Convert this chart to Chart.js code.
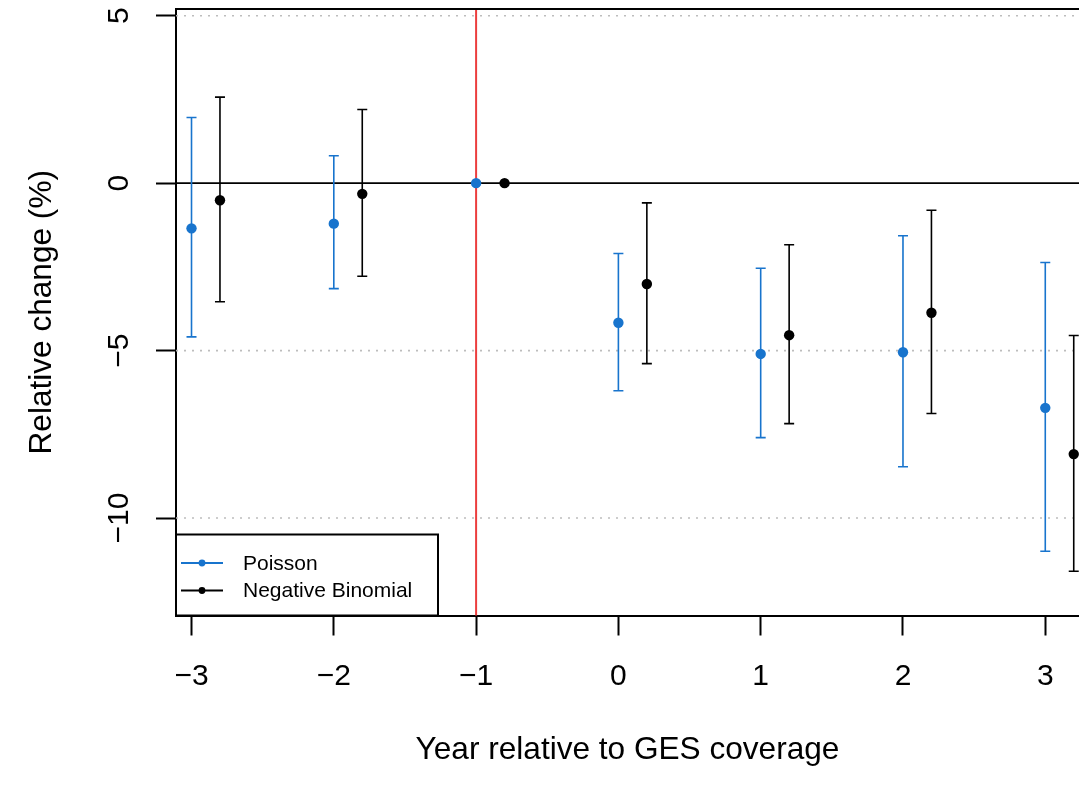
<!DOCTYPE html>
<html lang="en">
<head>
<meta charset="UTF-8">
<title>Relative change by year relative to GES coverage</title>
<script src="https://cdn.jsdelivr.net/npm/chart.js"></script>
<style>
  html, body { margin: 0; padding: 0; background: #fff; }
  #wrap { width: 1079px; height: 801px; }
</style>
</head>
<body>
<div id="wrap"><canvas id="chart" width="1079" height="801"></canvas></div>
<script>
// event-study estimates (percent)
const years = [-3, -2, -1, 0, 1, 2, 3];
const poissonEst  = [-1.35, -1.21, 0, -4.17, -5.10, -5.05, -6.71];
const poissonLow  = [-4.59, -3.15, null, -6.20, -7.60, -8.47, -10.99];
const poissonHigh = [1.96, 0.82, null, -2.10, -2.54, -1.57, -2.37];
const nbEst  = [-0.51, -0.32, 0, -3.01, -4.54, -3.87, -8.09];
const nbLow  = [-3.54, -2.78, null, -5.39, -7.18, -6.88, -11.59];
const nbHigh = [2.57, 2.20, null, -0.59, -1.84, -0.81, -4.55];
const xTicks = [-3, -2, -1, 0, 1, 2, 3];
const yTicks = [-10, -5, 0, 5];
const refYear = -1;     // red reference line
const nbShift = 0.2;    // negative binomial drawn a bit to the right

const FONT = "'Liberation Sans', Arial, Helvetica, sans-serif";
const blue = '#1874CD';
const black = '#000000';

function fmt(v) {
    return v < 0 ? '\u2212' + Math.abs(v) : String(v);
}

function points(est, lo, hi, shift) {
    return years.map((yr, i) => ({ x: yr + shift, y: est[i], lo: lo[i], hi: hi[i] }));
}

// dotted grid, solid zero line, red reference line
const backdrop = {
    id: 'backdrop',
    beforeDatasetsDraw(chart) {
        const { ctx, chartArea: a, scales: { x, y } } = chart;
        ctx.save();
        yTicks.forEach(v => {
            const py = y.getPixelForValue(v);
            ctx.beginPath();
            if (v === 0) {
                ctx.setLineDash([]);
                ctx.strokeStyle = black;
                ctx.lineWidth = 1.8;
            } else {
                ctx.setLineDash([2, 6]);
                ctx.strokeStyle = '#bdbdbd';
                ctx.lineWidth = 1.6;
            }
            ctx.moveTo(a.left, py);
            ctx.lineTo(a.right, py);
            ctx.stroke();
        });
        ctx.setLineDash([]);
        const rx = x.getPixelForValue(refYear);
        ctx.strokeStyle = 'rgb(236,62,62)';
        ctx.lineWidth = 2;
        ctx.beginPath();
        ctx.moveTo(rx, a.top);
        ctx.lineTo(rx, a.bottom);
        ctx.stroke();
        ctx.restore();
    }
};

const errorBars = {
    id: 'errorBars',
    beforeDatasetsDraw(chart) {
        const { ctx, scales: { x, y } } = chart;
        chart.data.datasets.forEach(ds => {
            ctx.save();
            ctx.strokeStyle = ds.borderColor;
            ctx.lineWidth = 1.6;
            ds.data.forEach(p => {
                if (p.lo == null || p.hi == null) return;
                const px = x.getPixelForValue(p.x);
                const y1 = y.getPixelForValue(p.lo);
                const y2 = y.getPixelForValue(p.hi);
                ctx.beginPath();
                ctx.moveTo(px, y1); ctx.lineTo(px, y2);
                ctx.moveTo(px - 5, y1); ctx.lineTo(px + 5, y1);
                ctx.moveTo(px - 5, y2); ctx.lineTo(px + 5, y2);
                ctx.stroke();
            });
            ctx.restore();
        });
    }
};

// vertical y tick labels (R style), box top and the legend
const overlay = {
    id: 'overlay',
    afterDraw(chart) {
        const { ctx, chartArea: a, scales: { y } } = chart;
        ctx.save();
        ctx.strokeStyle = black;
        ctx.lineWidth = 2;
        ctx.beginPath();
        ctx.moveTo(a.left - 1, a.top);
        ctx.lineTo(a.right, a.top);
        ctx.stroke();

        ctx.fillStyle = black;
        ctx.font = '30px ' + FONT;
        ctx.textAlign = 'center';
        ctx.textBaseline = 'alphabetic';
        y.ticks.forEach(t => {
            ctx.save();
            ctx.translate(y.right - 48, y.getPixelForValue(t.value));
            ctx.rotate(-Math.PI / 2);
            ctx.fillText(fmt(t.value), 0, 0);
            ctx.restore();
        });

        // legend box in the lower left corner
        const bx = a.left, bw = 262, bh = 81, by = a.bottom - bh;
        ctx.fillStyle = '#ffffff';
        ctx.fillRect(bx, by, bw, bh);
        ctx.strokeRect(bx, by, bw, bh);
        ctx.font = '21px ' + FONT;
        ctx.textAlign = 'left';
        ctx.textBaseline = 'middle';
        chart.data.datasets.forEach((ds, i) => {
            const ly = by + 28.5 + i * 27.5;
            ctx.strokeStyle = ds.borderColor;
            ctx.lineWidth = 2;
            ctx.beginPath();
            ctx.moveTo(bx + 5, ly);
            ctx.lineTo(bx + 47, ly);
            ctx.stroke();
            ctx.fillStyle = ds.backgroundColor;
            ctx.beginPath();
            ctx.arc(bx + 26, ly, 3.4, 0, Math.PI * 2);
            ctx.fill();
            ctx.fillStyle = black;
            ctx.fillText(ds.label, bx + 67, ly + 1);
        });
        ctx.restore();
    }
};

const ctx = document.getElementById('chart').getContext('2d');
const chart = new Chart(ctx, {
    type: 'scatter',
    data: {
        datasets: [
            {
                label: 'Poisson',
                data: points(poissonEst, poissonLow, poissonHigh, 0),
                backgroundColor: blue, borderColor: blue,
                pointRadius: 5.2, pointBorderWidth: 0, pointHoverRadius: 5.2
            },
            {
                label: 'Negative Binomial',
                data: points(nbEst, nbLow, nbHigh, nbShift),
                backgroundColor: black, borderColor: black,
                pointRadius: 5.2, pointBorderWidth: 0, pointHoverRadius: 5.2
            }
        ]
    },
    options: {
        responsive: false,
        animation: false,
        devicePixelRatio: 1,
        layout: { autoPadding: false, padding: { top: 9, left: 0, right: 0, bottom: 0 } },
        plugins: { legend: { display: false }, tooltip: { enabled: false } },
        scales: {
            x: {
                type: 'linear',
                min: -3.109,
                max: 3.237,
                afterBuildTicks: s => { s.ticks = xTicks.map(v => ({ value: v })); },
                afterFit: s => { s.height = 185.5; s.paddingLeft = 0; s.paddingRight = 0; },
                ticks: {
                    callback: v => fmt(v),
                    font: { family: FONT, size: 30 },
                    color: black,
                    padding: 23,
                    maxRotation: 0,
                    autoSkip: false
                },
                grid: { drawOnChartArea: false, drawTicks: true, tickLength: 20, tickColor: black, tickWidth: 2 },
                border: { display: true, color: black, width: 2 },
                title: {
                    display: true,
                    text: 'Year relative to GES coverage',
                    font: { family: FONT, size: 31.6 },
                    color: black,
                    padding: { top: 0, bottom: 32 }
                }
            },
            y: {
                type: 'linear',
                min: -12.91,
                max: 5.2,
                afterBuildTicks: s => { s.ticks = yTicks.map(v => ({ value: v })); },
                afterFit: s => { s.width = 176; s.paddingTop = 0; s.paddingBottom = 0; },
                ticks: { display: false },
                grid: { drawOnChartArea: false, drawTicks: true, tickLength: 20, tickColor: black, tickWidth: 2 },
                border: { display: true, color: black, width: 2 },
                title: {
                    display: true,
                    text: 'Relative change (%)',
                    font: { family: FONT, size: 31.6 },
                    color: black,
                    padding: { top: 23, bottom: 0 }
                }
            }
        }
    },
    plugins: [backdrop, errorBars, overlay]
});
</script>
</body>
</html>
